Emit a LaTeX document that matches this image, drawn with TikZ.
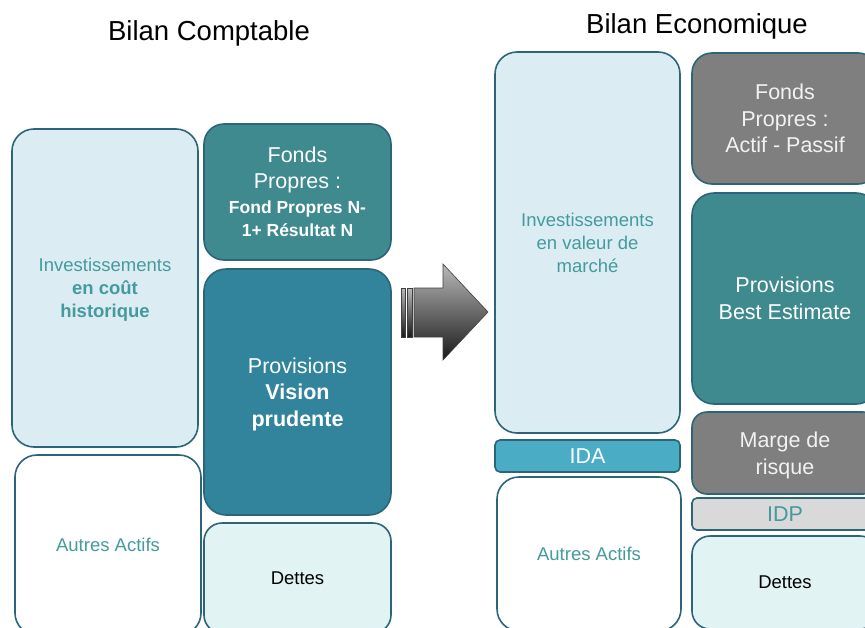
\documentclass[tikz,border=0pt]{standalone}
\usepackage{fontspec}
\setmainfont{Liberation Sans}
\usetikzlibrary{positioning}

\definecolor{bord}{HTML}{2B6577}
\definecolor{bleuclair}{HTML}{DBEDF3}
\definecolor{dettesfond}{HTML}{E2F3F3}
\definecolor{sarcelle}{HTML}{3E8A8F}
\definecolor{petrole}{HTML}{31849B}
\definecolor{gris}{HTML}{7F7F7F}
\definecolor{grisclair}{HTML}{D9D9D9}
\definecolor{cyan}{HTML}{4BACC6}
\definecolor{texteteal}{HTML}{459A9E}

\begin{document}
\begin{tikzpicture}
  [x=1pt, y=-1pt,
    bloc/.style={
      draw=bord, line width=1.6pt,
      rounded corners=22pt,
      align=center,
      inner sep=0pt,
    },
    sansjambe/.style={text depth=0pt},
    petit/.style={font=\fontsize{18.5}{23}\selectfont},
    grand/.style={font=\fontsize{21.5}{26.5}\selectfont},
    titre/.style={font=\fontsize{27.5}{32}\selectfont, anchor=base}
  ]
  \useasboundingbox (0,0) rectangle (865,627);
  \clip (0,0) rectangle (865,627);

  % titres
  \node[titre] (tCompta) at (209,40) {Bilan Comptable};
  \node[titre] (tEco) at (697,33) {Bilan Economique};

  % bilan comptable
  \node[bloc, petit, sansjambe, fill=bleuclair, text=texteteal,
    minimum width=186, minimum height=318] (invHist) at (105,288)
    {Investissements\\ \textbf{en coût}\\ \textbf{historique}};
  \node[bloc, petit, fill=white, text=texteteal,
    minimum width=186, minimum height=180] (autresG) at (108,545)
    {Autres Actifs};
  \node[bloc, grand, fill=sarcelle, text=white, rounded corners=20pt,
    minimum width=187, minimum height=136] (fpG) at (297.5,192)
    {Fonds\\ Propres :\\[-2pt]
     \textbf{\fontsize{17.5}{23}\selectfont Fond Propres N-}\\[-3pt]
     \textbf{\fontsize{17.5}{23}\selectfont 1+ Résultat N}};
  \node[bloc, grand, sansjambe, fill=petrole, text=white,
    minimum width=187, minimum height=246] (provG) at (297.5,392)
    {Provisions\\ \textbf{Vision}\\ \textbf{prudente}};
  \node[bloc, petit, fill=dettesfond, text=black, rounded corners=18pt,
    minimum width=187, minimum height=110] (dettesG) at (297.5,578)
    {Dettes};

  % fleche
  \shade[top color=gray!55, bottom color=black!90, draw=black!75, line width=0.6pt]
    (414,288) -- (443,288) -- (443,264) -- (488,312) -- (443,360)
    -- (443,337) -- (414,337) -- cycle;
  \shade[top color=gray!55, bottom color=black!90, draw=black!75, line width=0.6pt]
    (401,288) rectangle (405,337);
  \shade[top color=gray!55, bottom color=black!90, draw=black!75, line width=0.6pt]
    (407,288) rectangle (412,337);

  % bilan economique
  \node[bloc, petit, fill=bleuclair, text=texteteal,
    minimum width=185, minimum height=381] (invMarche) at (587.5,242.5)
    {Investissements\\ en valeur de\\ marché};
  \node[bloc, grand, fill=cyan, text=white, rounded corners=5pt,
    minimum width=185, minimum height=32] (ida) at (587.5,456)
    {IDA};
  \node[bloc, petit, fill=white, text=texteteal,
    minimum width=184, minimum height=154] (autresD) at (589,554)
    {Autres Actifs};
  \node[bloc, grand, fill=gris, text=white!95!black, rounded corners=20pt,
    minimum width=186, minimum height=131] (fpD) at (785,118.5)
    {Fonds\\ Propres :\\ Actif - Passif};
  \node[bloc, grand, fill=sarcelle, text=white,
    minimum width=186, minimum height=211] (provBE) at (785,298.5)
    {Provisions\\ Best Estimate};
  \node[bloc, grand, sansjambe, fill=gris, text=white!95!black, rounded corners=15pt,
    minimum width=186, minimum height=82] (marge) at (785,453)
    {Marge de\\ risque};
  \node[bloc, grand, fill=grisclair, text=texteteal, rounded corners=5pt,
    minimum width=186, minimum height=32] (idp) at (785,514)
    {IDP};
  \node[bloc, petit, fill=dettesfond, text=black, rounded corners=18pt,
    minimum width=186, minimum height=93] (dettesD) at (785,582.5)
    {Dettes};
\end{tikzpicture}
\end{document}
